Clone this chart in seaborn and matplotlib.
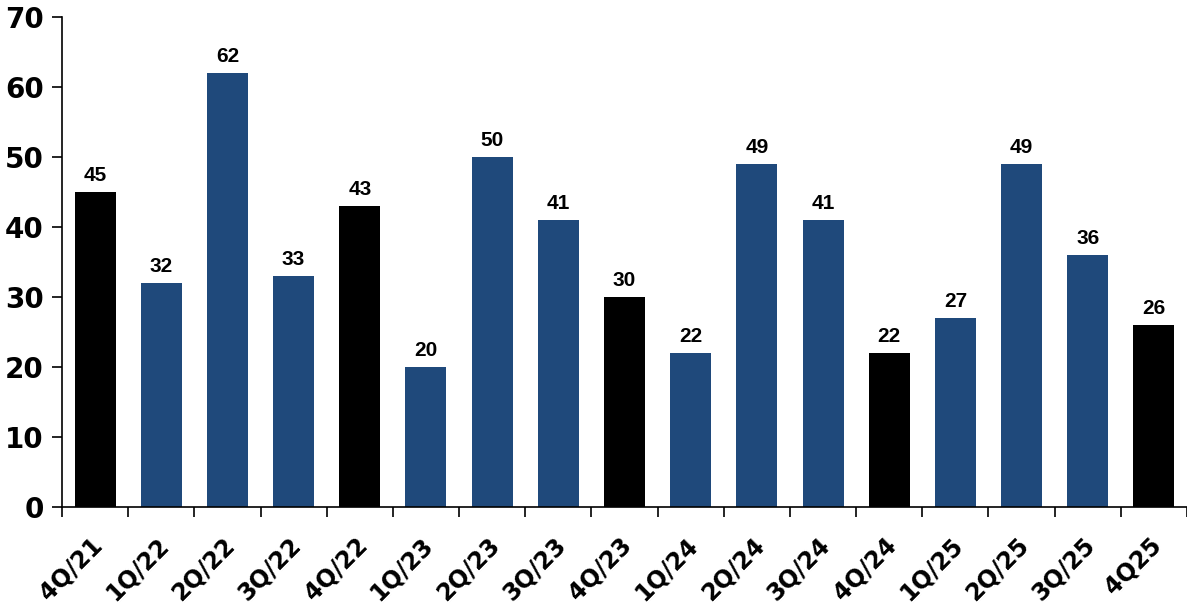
import matplotlib
matplotlib.use("Agg")
import matplotlib.pyplot as plt
import matplotlib.transforms as mtransforms
import seaborn as sns
import pandas as pd
from matplotlib.ticker import FixedLocator

quarters = ["4Q/21", "1Q/22", "2Q/22", "3Q/22", "4Q/22", "1Q/23", "2Q/23", "3Q/23",
            "4Q/23", "1Q/24", "2Q/24", "3Q/24", "4Q/24", "1Q/25", "2Q/25", "3Q/25", "4Q25"]
values = [45, 32, 62, 33, 43, 20, 50, 41, 30, 22, 49, 41, 22, 27, 49, 36, 26]
y_ticks = [0, 10, 20, 30, 40, 50, 60, 70]

BLUE = "#1F497B"
BLACK = "#000000"
colors = [BLACK if q.startswith("4Q") else BLUE for q in quarters]

sns.set_style("white")
plt.rcParams["font.family"] = ["DejaVu Sans"]
plt.rcParams["text.color"] = "black"
plt.rcParams["xtick.color"] = "black"
plt.rcParams["ytick.color"] = "black"

df = pd.DataFrame({"quarter": quarters, "value": values})

fig = plt.figure(figsize=(11.87, 6.11), dpi=100)
ax = fig.add_axes([62 / 1187, 1 - 507 / 611, 1 - 62 / 1187, (507 - 17) / 611])

sns.barplot(data=df, x="quarter", y="value", hue="quarter", palette=colors,
            width=0.62, legend=False, ax=ax, saturation=1, edgecolor="none")

for cont in ax.containers:
    for bar in cont:
        h = bar.get_height()
        ax.annotate(f"{int(round(h))}", (bar.get_x() + bar.get_width() / 2, h),
                    xytext=(0, 5), textcoords="offset points", ha="center", va="bottom",
                    fontsize=15, fontweight="bold", color="black",
                    family=["Liberation Sans", "DejaVu Sans"])

ax.set_xlim(-0.5, len(quarters) - 0.5)
ax.set_ylim(0, 70)
ax.set_yticks(y_ticks)
ax.set_yticklabels([str(v) for v in y_ticks], fontsize=20, fontweight="bold", color="black")
ax.set_xlabel("")
ax.set_ylabel("")

ax.set_xticks(range(len(quarters)))
ax.set_xticklabels(quarters, rotation=45, ha="right", rotation_mode="anchor",
                   fontsize=17, fontweight="bold", color="black")
ax.tick_params(axis="x", which="major", length=0, pad=20)
offset = mtransforms.ScaledTranslation(-5 / 100, 2 / 100, fig.dpi_scale_trans)
for lab in ax.get_xticklabels():
    lab.set_transform(lab.get_transform() + offset)
ax.xaxis.set_minor_locator(FixedLocator([i - 0.5 for i in range(len(quarters) + 1)]))
ax.tick_params(axis="x", which="minor", length=7, width=1.2, direction="out", color="black", bottom=True)
ax.tick_params(axis="y", which="major", length=7, width=1.2, direction="out", color="black", left=True, pad=6)

for s in ["top", "right"]:
    ax.spines[s].set_visible(False)
for s in ["left", "bottom"]:
    ax.spines[s].set_color("black")
    ax.spines[s].set_linewidth(1.2)

fig.savefig("out.png", dpi=100)
